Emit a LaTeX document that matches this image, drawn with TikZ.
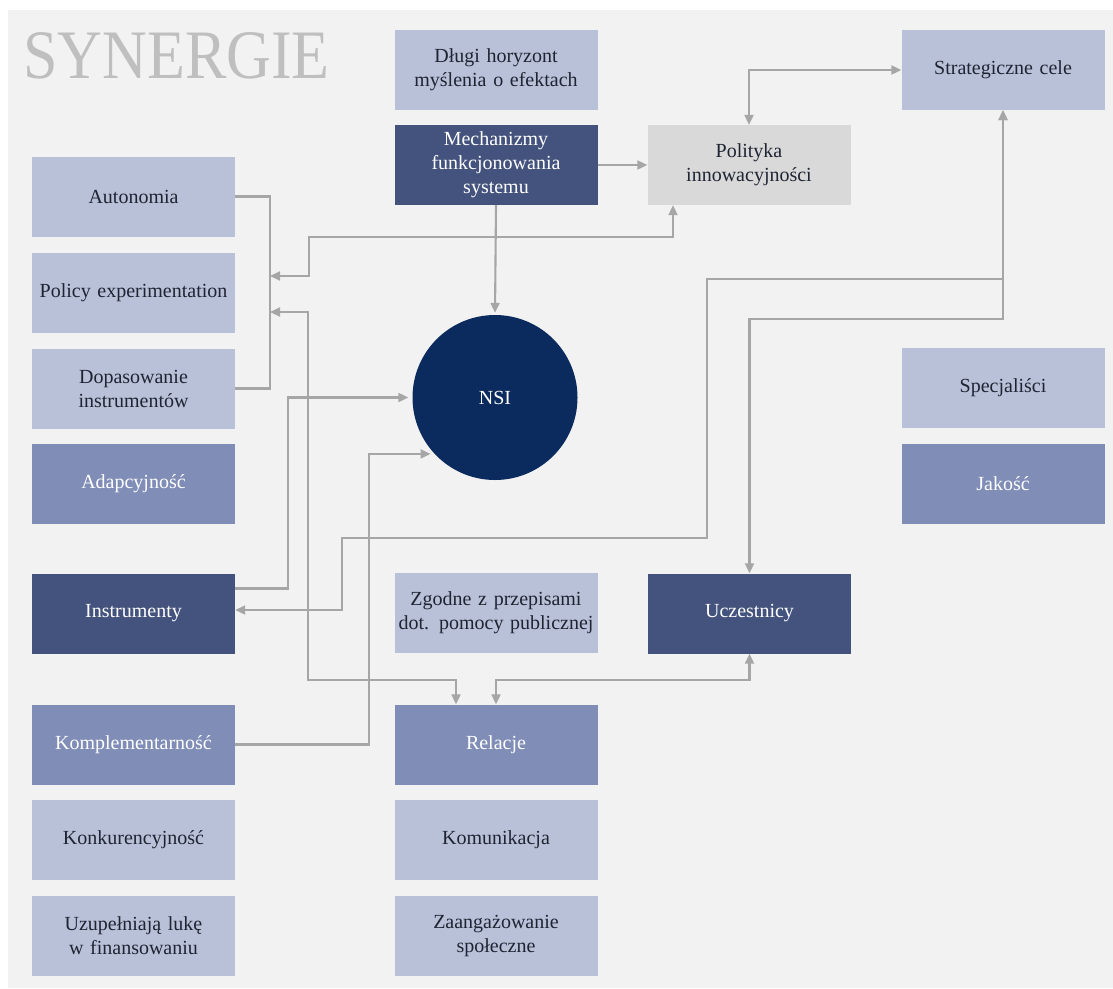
\documentclass[tikz,border=0pt]{standalone}
\usepackage{fontspec}
\setmainfont{Liberation Serif}
\usetikzlibrary{arrows.meta,calc}

\definecolor{panel}{HTML}{F2F2F2}
\definecolor{boxlight}{HTML}{B9C1D9}
\definecolor{boxmid}{HTML}{7F8DB7}
\definecolor{boxdark}{HTML}{44537D}
\definecolor{boxgrey}{HTML}{D9D9D9}
\definecolor{nsiblue}{HTML}{0B2B5E}
\definecolor{linkc}{HTML}{A6A6A6}
\definecolor{titlegrey}{HTML}{BFBFBF}
\definecolor{txtdark}{HTML}{1F2433}

\tikzset{
  base/.style={rectangle, minimum width=203pt, minimum height=80pt,
    inner sep=1.5pt, text width=200pt, align=center,
    font=\fontsize{20}{24}\selectfont},
  lightbox/.style={base, fill=boxlight, text=txtdark},
  midbox/.style={base, fill=boxmid, text=white},
  darkbox/.style={base, fill=boxdark, text=white},
  greybox/.style={base, fill=boxgrey, text=txtdark},
  link/.style={draw=linkc, line width=2.1pt},
  arr/.style={link, -{Triangle[length=10pt,width=9pt]}},
  arrboth/.style={link, {Triangle[length=10pt,width=9pt]}-{Triangle[length=10pt,width=9pt]}}
}

\begin{document}
\begin{tikzpicture}[x=1pt,y=-1pt]
  \useasboundingbox (0,0) rectangle (1113,988);
  \fill[white] (0,0) rectangle (1113,988);
  \fill[panel] (8,10) rectangle (1113,988);

  % title
  \node[anchor=base west, inner sep=0, text=titlegrey,
        font=\fontsize{62}{62}\selectfont] (title) at (23,78)
        {\scalebox{1}[1.12]{SYNERGIE}};

  % left column
  \node[lightbox] (auto) at (133.5,196.5) {Autonomia};
  \node[lightbox] (pol-exp) at (133.5,292.5) {Policy experimentation};
  \node[lightbox] (dop) at (133.5,388.5) {Dopasowanie\\instrumentów};
  \node[midbox]   (adap) at (133.5,483.5) {Adapcyjność};
  \node[darkbox]  (ins) at (133.5,613.5) {Instrumenty};
  \node[midbox]   (kom) at (133.5,744.5) {Komplementarność};
  \node[lightbox] (konk) at (133.5,839.5) {Konkurencyjność};
  \node[lightbox] (uzup) at (133.5,935.5) {Uzupełniają lukę\\w finansowaniu};

  % middle column
  \node[lightbox] (dlugi) at (496,70) {Długi horyzont\\myślenia o efektach};
  \node[darkbox]  (mech) at (496,165) {Mechanizmy\\funkcjonowania\\systemu};
  \node[circle, fill=nsiblue, text=white, minimum size=165pt, inner sep=0,
        font=\fontsize{20}{24}\selectfont] (nsi) at (495,397.5) {NSI};
  \node[lightbox] (zgod) at (496,612.5) {Zgodne z przepisami\\dot. pomocy publicznej};
  \node[midbox]   (rel) at (496,744.5) {Relacje};
  \node[lightbox] (komu) at (496,839.5) {Komunikacja};
  \node[lightbox] (zaang) at (496,935.5) {Zaangażowanie\\społeczne};

  % right-hand side
  \node[greybox]  (polit) at (749,165) {Polityka\\innowacyjności};
  \node[darkbox]  (ucz) at (749.5,613.5) {Uczestnicy};
  \node[lightbox] (strat) at (1003,70) {Strategiczne cele};
  \node[lightbox] (spec) at (1003,388) {Specjaliści};
  \node[midbox]   (jak) at (1003,483.5) {Jakość};

  % guide coordinates for the routed lines
  \coordinate (bk) at (270,0);
  \coordinate (bkA) at (270,276);
  \coordinate (bkB) at (270,312);
  \coordinate (xi) at (288,0);
  \coordinate (xk) at (369,0);

  % bracket joining Autonomia and Dopasowanie
  \draw[link] (auto.east) -- (auto.east -| bk) -- (dop.east -| bk) -- (dop.east);

  % connectors
  \draw[arr] (mech.east) -- (polit.west);
  \draw[arrboth] (polit.north) |- (strat.west);
  \draw[arr, shorten >=2pt] (mech.south) -- (nsi.north);
  \draw[arrboth] ([xshift=-76pt]polit.south) |- (309,237) |- (bkA);
  \draw[arrboth] ([xshift=-40pt]rel.north) |- (308,680) |- (bkB);
  \draw[arrboth] (rel.north) |- ([yshift=-26pt]ucz.south) -- (ucz.south);
  \draw[arr, shorten >=4pt] ([yshift=25pt]ins.east) -| (xi |- nsi.west) -- (nsi.west);
  \draw[arr, shorten >=4pt] (kom.east) -| (xk |- nsi.223) -- (nsi.223);
  \draw[arrboth] (strat.south) |- (707,279) |- (342,538) |- ([yshift=3.5pt]ins.east);
  \draw[arrboth] (strat.south) |- (749.5,319) -- (ucz.north);
\end{tikzpicture}
\end{document}
